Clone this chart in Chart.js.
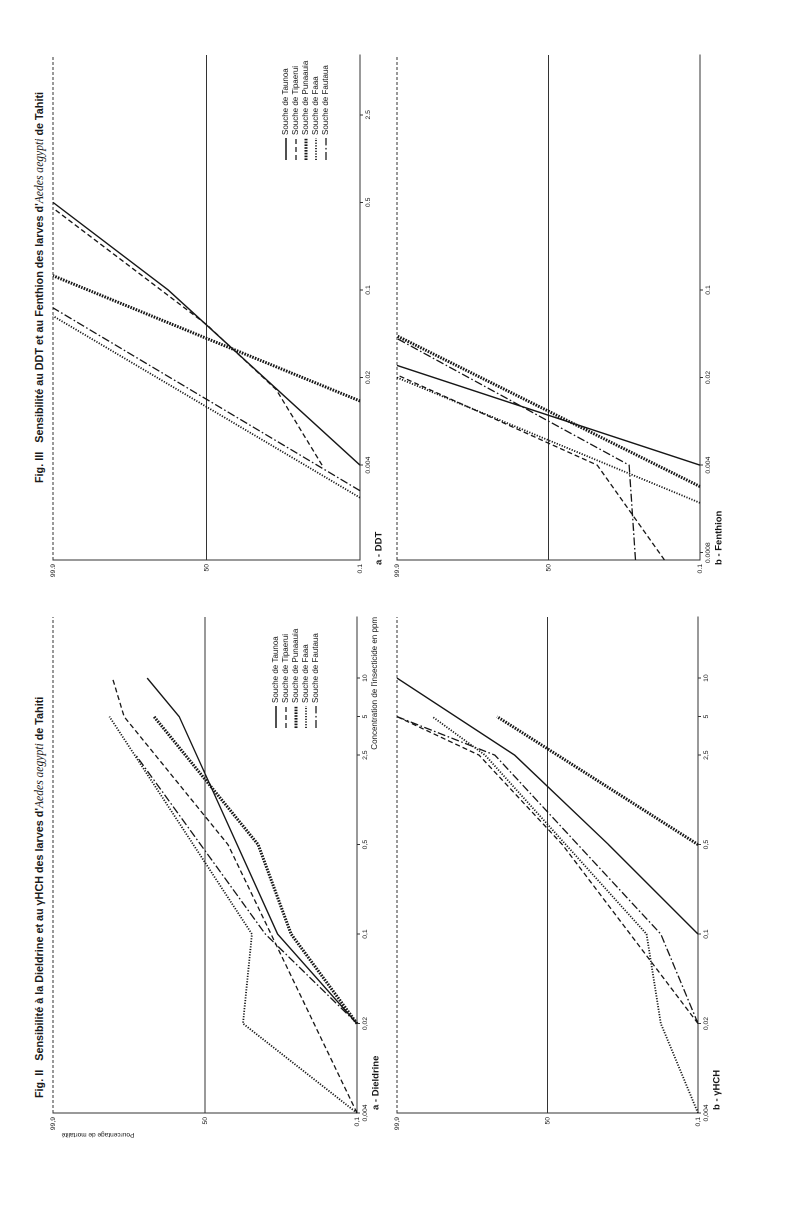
<!DOCTYPE html>
<html>
<head>
<meta charset="utf-8">
<script src="https://cdn.jsdelivr.net/npm/chart.js@4.4.0/dist/chart.umd.min.js"></script>
<style>
html, body { margin: 0; padding: 0; background: #fff; overflow: hidden; }
#page {
    position: absolute; left: 0; top: 0;
    width: 1231px; height: 800px;
    transform-origin: 0 0;
    transform: translate(0, 1231px) rotate(-90deg);
    background: #fff;
}
#page canvas { position: absolute; }
.fig-title {
    position: absolute; white-space: nowrap;
    font: bold 10.8px 'Liberation Sans', Arial, sans-serif; color: #1a1a1a;
}
.fig-title i { font: italic 11.6px 'Liberation Serif', serif; }
</style>
</head>
<body>
<div id="page">
    <div class="fig-title" style="left:133px; top:33px">Fig. II&nbsp;&nbsp; Sensibilité à la Dieldrine et au γHCH des larves d'<i>Aedes aegypti</i> de Tahiti</div>
    <div class="fig-title" style="left:748px; top:33px">Fig. III&nbsp;&nbsp; Sensibilité au DDT et au Fenthion des larves d'<i>Aedes aegypti</i> de Tahiti</div>
    <canvas id="dieldrine"></canvas>
    <canvas id="hch"></canvas>
    <canvas id="ddt"></canvas>
    <canvas id="fenthion"></canvas>
</div>
<script>
// strains, same order in every panel
const strains = ['Souche de Taunoa', 'Souche de Tipaerui', 'Souche de Punaauia', 'Souche de Faaa', 'Souche de Fautaua'];

// concentration (ppm) and mortality (%) of each strain
const dieldrineConc = [[0.02, 0.1, 5, 10], [0.004, 0.5, 5, 10], [0.02, 0.1, 0.5, 5], [0.004, 0.02, 0.1, 5], [0.02, 0.1, 2.5]];
const dieldrineMort = [[0.1, 7, 70, 88], [0.1, 32, 95, 97], [0.1, 4, 14, 85], [0.1, 22, 17, 97.4], [0.1, 11, 92]];

const hchConc = [[0.1, 0.5, 2.5, 10], [0.02, 0.5, 2.5, 5], [0.5, 5], [0.004, 0.02, 0.1, 2.5, 5], [0.02, 0.1, 2.5, 5]];
const hchMort = [[0.1, 10.5, 75, 99.9], [0.1, 38, 92, 99.9], [0.1, 85], [0.1, 1, 2.1, 90, 99.1], [0.1, 1, 86, 99.9]];

const ddtConc = [[0.004, 0.1, 0.5], [0.004, 0.016, 0.053, 0.45], [0.013, 0.13], [0.0022, 0.062], [0.0025, 0.072]];
const ddtMort = [[0.1, 78, 99.9], [1, 8, 50, 99.9], [0.1, 99.9], [0.1, 99.9], [0.1, 99.9]];

const fenthionConc = [[0.004, 0.025], [0.0007, 0.004, 0.021], [0.0027, 0.043], [0.002, 0.02], [0.0007, 0.004, 0.041]];
const fenthionMort = [[0.1, 99.9], [0.9, 16, 99.9], [0.1, 99.9], [0.1, 99.9], [3.8, 5, 99.9]];

// axes
const mortTicks = [0.1, 50, 99.9];
const mortLabelsII = ['0,1', '50', '99,9'];
const mortLabelsIII = ['0.1', '50', '99.9'];
const figIITicks = [0.004, 0.02, 0.1, 0.5, 2.5, 5, 10];
const figIITickLabels = ['0,004', '0,02', '0,1', '0,5', '2,5', '5', '10'];
const ddtTicks = [0.004, 0.02, 0.1, 0.5, 2.5];
const ddtTickLabels = ['0.004', '0.02', '0.1', '0.5', '2.5'];
const fenthionTicks = [0.0008, 0.004, 0.02, 0.1];
const fenthionTickLabels = ['0.0008', '0.004', '0.02', '0.1'];

const ink = '#161616';
const strainStyles = [
    { borderWidth: 1.4, borderDash: [] },
    { borderWidth: 1.3, borderDash: [5, 3] },
    { borderWidth: 3, borderDash: [1.6, 1.2] },
    { borderWidth: 1.8, borderDash: [1.2, 1.5] },
    { borderWidth: 1.3, borderDash: [8, 2.5, 1.6, 2.5] }
];

// probit: inverse of the normal distribution (Acklam)
function probit(p) {
    const a = [-39.69683028665376, 220.9460984245205, -275.9285104469687, 138.3577518672690, -30.66479806614716, 2.506628277459239];
    const b = [-54.47609879822406, 161.5858368580409, -155.6989798598866, 66.80131188771972, -13.28068155288572];
    const c = [-0.007784894002430293, -0.3223964580411365, -2.400758277161838, -2.549732539343734, 4.374664141464968, 2.938163982698783];
    const d = [0.007784695709041462, 0.3224671290700398, 2.445134137142996, 3.754408661907416];
    const pl = 0.02425;
    let q, r;
    if (p < pl) {
        q = Math.sqrt(-2 * Math.log(p));
        return (((((c[0] * q + c[1]) * q + c[2]) * q + c[3]) * q + c[4]) * q + c[5]) / ((((d[0] * q + d[1]) * q + d[2]) * q + d[3]) * q + 1);
    }
    if (p <= 1 - pl) {
        q = p - 0.5; r = q * q;
        return (((((a[0] * r + a[1]) * r + a[2]) * r + a[3]) * r + a[4]) * r + a[5]) * q / (((((b[0] * r + b[1]) * r + b[2]) * r + b[3]) * r + b[4]) * r + 1);
    }
    q = Math.sqrt(-2 * Math.log(1 - p));
    return -(((((c[0] * q + c[1]) * q + c[2]) * q + c[3]) * q + c[4]) * q + c[5]) / ((((d[0] * q + d[1]) * q + d[2]) * q + d[3]) * q + 1);
}

const font = "'Liberation Sans', Arial, sans-serif";
Chart.defaults.font.family = font;
Chart.defaults.color = ink;

// reference lines, legend and panel texts
const panelDecor = {
    id: 'panelDecor',
    beforeDatasetsDraw(chart) {
        const { ctx, chartArea: a, scales: { y } } = chart;
        ctx.save();
        ctx.strokeStyle = '#333';
        ctx.lineWidth = 0.9;
        let py = y.getPixelForValue(probit(mortTicks[1] / 100));
        ctx.beginPath(); ctx.moveTo(a.left, py); ctx.lineTo(a.right, py); ctx.stroke();
        py = y.getPixelForValue(probit(mortTicks[2] / 100));
        ctx.setLineDash([3, 2]);
        ctx.beginPath(); ctx.moveTo(a.left, py); ctx.lineTo(a.right, py); ctx.stroke();
        ctx.restore();
    },
    afterDraw(chart, args, o) {
        const { ctx, chartArea: a } = chart;
        ctx.save();
        ctx.fillStyle = ink;
        ctx.textBaseline = 'middle';
        if (o.legend) {
            chart.data.datasets.forEach((ds, i) => {
                const lx = a.left + o.legend.x, ly = a.top + o.legend.y + i * o.legend.step;
                ctx.strokeStyle = ds.borderColor;
                ctx.lineWidth = ds.borderWidth;
                ctx.setLineDash(ds.borderDash);
                ctx.beginPath(); ctx.moveTo(lx, ly); ctx.lineTo(lx + 22, ly); ctx.stroke();
                ctx.font = '8px ' + font;
                ctx.textAlign = 'left';
                ctx.fillText(ds.label, lx + 25, ly);
            });
        }
        ctx.font = 'bold 9.5px ' + font;
        ctx.textAlign = 'left';
        ctx.fillText(o.label, a.left + o.labelX, a.bottom + 19);
        if (o.xTitle) {
            ctx.font = '8px ' + font;
            ctx.textAlign = 'right';
            ctx.fillText(o.xTitle, a.right, a.bottom + 18);
        }
        if (o.yTitle) {
            ctx.translate(a.left - 22, a.top + 45);
            ctx.rotate(-Math.PI / 2);
            ctx.font = '6.5px ' + font;
            ctx.textAlign = 'center';
            ctx.fillText(o.yTitle, 0, 0);
        }
        ctx.restore();
    }
};

function makePanel(id, area, conc, mort, xMin, xMax, ticks, tickLabels, yLabels, decor) {
    const PADL = 45, PADT = 15, PADR = 15, PADB = 30;
    const cv = document.getElementById(id);
    const w = area[1] - area[0] + PADL + PADR;
    const h = area[3] - area[2] + PADT + PADB;
    cv.style.left = (area[0] - PADL) + 'px';
    cv.style.top = (area[2] - PADT) + 'px';
    cv.width = w; cv.height = h;
    cv.style.width = w + 'px'; cv.style.height = h + 'px';

    const datasets = strains.map((name, i) => ({
        label: name,
        data: conc[i].map((x, k) => ({ x: x, y: probit(mort[i][k] / 100) })),
        borderColor: ink,
        borderWidth: strainStyles[i].borderWidth,
        borderDash: strainStyles[i].borderDash,
        borderCapStyle: 'butt',
        pointRadius: 0,
        tension: 0,
        fill: false,
        clip: 4
    }));

    new Chart(cv, {
        type: 'line',
        data: { datasets: datasets },
        options: {
            responsive: false,
            devicePixelRatio: 2,
            animation: false,
            events: [],
            layout: { padding: { left: 0, top: PADT, right: PADR, bottom: 0 } },
            plugins: { legend: { display: false }, tooltip: { enabled: false }, panelDecor: decor },
            scales: {
                x: {
                    type: 'logarithmic',
                    min: xMin,
                    max: xMax,
                    afterBuildTicks: s => { s.ticks = ticks.map(v => ({ value: v })); },
                    afterFit: s => { s.height = PADB; },
                    grid: { drawOnChartArea: false, drawTicks: true, tickLength: 3, tickColor: '#333' },
                    border: { color: '#333', width: 1 },
                    ticks: {
                        autoSkip: false, maxRotation: 0, padding: 1,
                        font: { size: 6.8 },
                        callback: (v, i) => tickLabels[i]
                    }
                },
                y: {
                    type: 'linear',
                    min: probit(mortTicks[0] / 100),
                    max: probit(mortTicks[2] / 100),
                    afterBuildTicks: s => { s.ticks = mortTicks.map(v => ({ value: probit(v / 100) })); },
                    afterFit: s => { s.width = PADL; },
                    grid: { drawOnChartArea: false, drawTicks: false },
                    border: { color: '#333', width: 1 },
                    ticks: {
                        padding: 4,
                        font: { size: 6.8 },
                        callback: (v, i) => yLabels[i]
                    }
                }
            }
        },
        plugins: [panelDecor]
    });
}

makePanel('dieldrine', [118, 614, 53, 357], dieldrineConc, dieldrineMort, 0.004, 30, figIITicks, figIITickLabels, mortLabelsII, {
    label: 'a - Dieldrine', labelX: 3,
    xTitle: "Concentration de l'insecticide en ppm",
    yTitle: 'Pourcentage de mortalité',
    legend: { x: 385, y: 223, step: 10 }
});
makePanel('hch', [118, 614, 397, 698], hchConc, hchMort, 0.004, 30, figIITicks, figIITickLabels, mortLabelsII, {
    label: 'b - γHCH', labelX: 3
});
makePanel('ddt', [671, 1176, 53, 360], ddtConc, ddtMort, 0.0007, 7.5, ddtTicks, ddtTickLabels, mortLabelsIII, {
    label: 'a - DDT', labelX: -5,
    legend: { x: 400, y: 233, step: 10 }
});
makePanel('fenthion', [671, 1176, 397, 700], fenthionConc, fenthionMort, 0.0007, 7.5, fenthionTicks, fenthionTickLabels, mortLabelsIII, {
    label: 'b - Fenthion', labelX: -5
});
</script>
</body>
</html>
